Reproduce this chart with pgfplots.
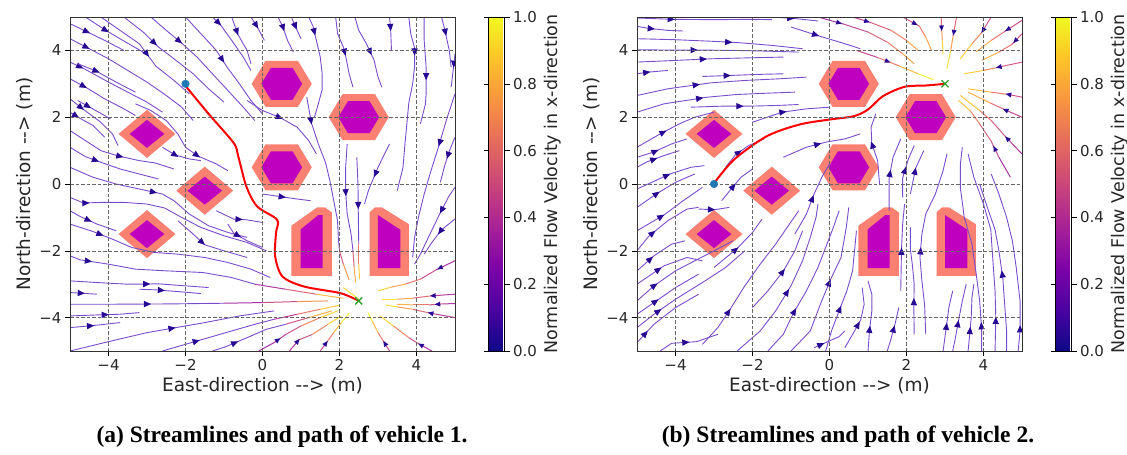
\documentclass[border=0pt]{standalone}
\usepackage{fontspec}
\setmainfont{DejaVu Sans}
\newfontfamily\capfont{Liberation Serif}
\usepackage{pgfplots}
\pgfplotsset{compat=1.18}
\usetikzlibrary{decorations.markings}
\definecolor{slc}{RGB}{122,76,204}
\definecolor{arrc}{RGB}{38,10,148}
\definecolor{salm}{RGB}{250,128,114}
\definecolor{obmag}{RGB}{191,0,191}
\definecolor{pathred}{RGB}{255,0,0}
\definecolor{startblue}{RGB}{31,119,180}
\definecolor{goalgreen}{RGB}{44,160,44}
\pgfplotsset{colormap={plasma}{rgb255=(13,8,135) rgb255=(75,3,161) rgb255=(125,3,168) rgb255=(168,34,150) rgb255=(203,70,121) rgb255=(229,107,93) rgb255=(248,148,65) rgb255=(253,195,40) rgb255=(240,249,33)}}
\pgfplotsset{
 sl/.style={draw=slc, line width=0.9pt, postaction={decorate}, decoration={markings, mark=at position #1 with {\fill[arrc] (3pt,0pt)--(-2.6pt,2.5pt)--(-2.6pt,-2.5pt)--cycle;}}},
 sl/.default=0.5,
 ar/.style={draw=none, postaction={decorate}, decoration={markings, mark=at position #1 with {\fill[arrc] (3pt,0pt)--(-2.6pt,2.5pt)--(-2.6pt,-2.5pt)--cycle;}}},
 ar/.default=0.5,
 gl/.style={mesh, shader=flat, line width=1.0pt, point meta=explicit, opacity=0.9},
 panel/.style={
  scale only axis, width=385pt, height=334pt,
  xmin=-5, xmax=5, ymin=-5, ymax=5,
  xtick={-4,-2,0,2,4}, ytick={-4,-2,0,2,4},
  xticklabels={−4,−2,0,2,4}, yticklabels={−4,−2,0,2,4},
  tick align=outside, xtick pos=bottom, ytick pos=left,
  major tick length=5pt,
  every tick/.style={black, line width=0.6pt},
  grid=major,
  major grid style={draw=black!60, line width=0.45pt, dash pattern=on 3.5pt off 2pt},
  axis line style={black!80, line width=0.6pt},
  tick label style={font=\fontsize{15}{18}\selectfont, text=black!85},
  label style={font=\fontsize{18.5}{22}\selectfont, text=black!85},
  xlabel={East-direction -{}-> (m)},
  ylabel={North-direction -{}-> (m)},
  point meta min=0, point meta max=1,
  axis on top,
  colorbar,
  colorbar style={
    at={(parent axis.north east)}, anchor=north west, xshift=25pt,
    scale only axis, width=16pt, height=334pt,
    ytick={0,0.2,0.4,0.6,0.8,1}, yticklabels={0.0,0.2,0.4,0.6,0.8,1.0},
    yticklabel style={font=\fontsize{15}{18}\selectfont, text=black!85},
    ylabel={Normalized Flow Velocity in x-direction},
    ylabel style={font=\fontsize{17.5}{21}\selectfont, text=black!85},
    major tick length=5pt, tick align=outside,
    axis line style={black, line width=0.6pt},
  },
 },
}
\newcommand{\obstacles}{%
\addplot[fill=salm, draw=none] coordinates {(-0.28,3)(0.08,3.69)(0.92,3.69)(1.28,3)(0.92,2.31)(0.08,2.31)} -- cycle;
\addplot[fill=obmag, draw=none] coordinates {(-0.03,3)(0.22,3.48)(0.78,3.48)(1.03,3)(0.78,2.52)(0.22,2.52)} -- cycle;
\addplot[fill=salm, draw=none] coordinates {(-0.28,0.5)(0.08,1.19)(0.92,1.19)(1.28,0.5)(0.92,-0.19)(0.08,-0.19)} -- cycle;
\addplot[fill=obmag, draw=none] coordinates {(-0.03,0.5)(0.22,0.98)(0.78,0.98)(1.03,0.5)(0.78,0.02)(0.22,0.02)} -- cycle;
\addplot[fill=salm, draw=none] coordinates {(1.72,2)(2.08,2.69)(2.92,2.69)(3.28,2)(2.92,1.31)(2.08,1.31)} -- cycle;
\addplot[fill=obmag, draw=none] coordinates {(1.97,2)(2.22,2.48)(2.78,2.48)(3.03,2)(2.78,1.52)(2.22,1.52)} -- cycle;
\addplot[fill=salm, draw=none] coordinates {(-3.74,1.5)(-3,2.22)(-2.26,1.5)(-3,0.78)} -- cycle;
\addplot[fill=obmag, draw=none] coordinates {(-3.45,1.5)(-3,1.92)(-2.55,1.5)(-3,1.08)} -- cycle;
\addplot[fill=salm, draw=none] coordinates {(-2.24,-0.2)(-1.5,0.52)(-0.76,-0.2)(-1.5,-0.92)} -- cycle;
\addplot[fill=obmag, draw=none] coordinates {(-1.95,-0.2)(-1.5,0.22)(-1.05,-0.2)(-1.5,-0.62)} -- cycle;
\addplot[fill=salm, draw=none] coordinates {(-3.74,-1.5)(-3,-0.78)(-2.26,-1.5)(-3,-2.22)} -- cycle;
\addplot[fill=obmag, draw=none] coordinates {(-3.45,-1.5)(-3,-1.08)(-2.55,-1.5)(-3,-1.92)} -- cycle;
\addplot[fill=salm, draw=none] coordinates {(0.75,-2.75)(1.8,-2.75)(1.8,-0.85)(1.62,-0.7)(1.42,-0.7)(0.75,-1.25)} -- cycle;
\addplot[fill=obmag, draw=none] coordinates {(0.99,-2.52)(1.56,-2.52)(1.56,-0.93)(1.45,-0.93)(0.99,-1.36)} -- cycle;
\addplot[fill=salm, draw=none] coordinates {(2.78,-2.75)(3.8,-2.75)(3.8,-1.2)(3.1,-0.7)(2.92,-0.7)(2.78,-0.85)} -- cycle;
\addplot[fill=obmag, draw=none] coordinates {(3.0,-2.52)(3.58,-2.52)(3.58,-1.37)(3.0,-0.93)} -- cycle;
}
\begin{document}
\begin{tikzpicture}
\useasboundingbox (0,0) rectangle (1127pt,-455pt);
% ---------------- panel (a)
\begin{axis}[panel, at={(70pt,-17pt)}, anchor=north west]
\obstacles
% top-left family
\addplot[sl=0.3] coordinates {(-5,4.8)(-4.6,4.58)(-4.1,4.3)(-3.6,4.0)};
\addplot[sl=0.12] coordinates {(-5,4.35)(-4.5,4.05)(-4.0,3.75)(-3.5,3.4)(-3.0,3.05)(-2.5,2.65)(-2.1,2.3)(-1.8,1.9)};
\addplot[sl=0.1] coordinates {(-5,3.65)(-4.6,3.43)(-4.0,3.05)(-3.5,2.75)(-3.0,2.45)(-2.6,2.15)};
\addplot[sl=0.3] coordinates {(-4.8,3.6)(-4.32,3.38)(-3.8,3.05)(-3.3,2.75)};
\addplot[sl=0.2] coordinates {(-5,3.15)(-4.57,2.88)(-4.1,2.55)(-3.6,2.25)(-3.3,2.05)};
\addplot[sl=0.2] coordinates {(-5,2.55)(-4.65,2.23)(-4.2,1.85)(-3.9,1.5)(-3.75,1.15)};
\addplot[sl=0.3] coordinates {(-4.8,2.5)(-4.38,2.23)(-3.95,1.95)};
\addplot[sl=0.15] coordinates {(-5,2.15)(-4.76,1.98)(-4.4,1.75)(-4.1,1.4)};
\addplot[sl=0.5] coordinates {(-5,1.6)(-4.6,1.3)(-4.2,1.0)(-3.75,0.84)(-3.2,0.7)(-2.79,0.63)(-2.3,0.45)};
\addplot[sl=0.3] coordinates {(-5,1.1)(-4.6,0.82)(-4.22,0.66)(-3.7,0.45)(-3.2,0.3)(-2.7,0.15)};
\addplot[sl=0.7] coordinates {(-3.3,2.4)(-2.9,2.2)(-2.5,1.9)(-2.2,1.5)(-2.0,1.1)(-1.68,0.84)(-1.2,0.6)(-0.9,0.4)};
\addplot[sl=0.35] coordinates {(-2.6,1.1)(-2.27,0.87)(-1.9,0.75)(-1.6,0.7)};
\addplot[sl=0.35] coordinates {(-4.6,5)(-4.1,4.62)(-3.6,4.28)(-3.1,3.95)};
\addplot[sl=0.5] coordinates {(-4.2,5)(-3.7,4.6)(-3.2,4.2)(-2.77,3.53)(-2.3,3.1)(-1.9,2.7)};
\addplot[sl=0.3] coordinates {(-3.6,5)(-3.1,4.55)(-2.7,4.1)(-2.3,3.75)(-1.8,3.3)(-1.4,2.85)(-1.0,2.45)};
\addplot[sl=0.25] coordinates {(-2.9,5)(-2.5,4.6)(-2.11,4.23)(-1.7,3.8)(-1.3,3.3)(-0.9,2.8)(-0.5,2.3)(-0.2,1.9)};
\addplot[sl=0.45] coordinates {(-2.0,5)(-1.6,4.5)(-1.2,4.0)(-0.92,3.5)(-0.6,3.0)(-0.3,2.5)(0.0,2.1)};
\addplot[sl=0.12] coordinates {(-1.3,5)(-1.1,4.78)(-0.8,4.3)(-0.5,3.8)(-0.3,3.4)};
\addplot[sl=0.3] coordinates {(-0.8,5)(-0.64,4.48)(-0.4,4.0)(-0.3,3.6)};
\addplot[sl=0.35] coordinates {(-0.3,5)(-0.15,4.73)(0.05,4.3)};
\addplot[sl=0.3] coordinates {(0.4,5)(0.52,4.73)(0.65,4.3)(0.8,3.95)};
\addplot[sl=0.4] coordinates {(0.75,5)(0.85,4.73)(1.0,4.35)};
\addplot[sl=0.15] coordinates {(1.2,5)(1.31,4.73)(1.4,4.3)(1.5,3.8)(1.55,3.3)(1.55,2.83)(1.45,2.4)(1.35,2.0)};
\addplot[sl=0.5] coordinates {(1.9,5)(1.95,4.5)(2.1,4.1)(2.16,3.83)(2.25,3.3)(2.35,2.9)};
\addplot[sl=0.5] coordinates {(2.4,5)(2.5,4.6)(2.7,4.2)(2.9,3.7)(3.0,3.2)(3.1,2.9)};
\addplot[sl=0.3] coordinates {(3.3,5)(3.33,4.6)(3.35,4.0)};
\addplot[sl=0.2] coordinates {(3.8,5)(3.85,4.5)(3.95,4.08)(3.95,3.5)(3.9,3.0)(3.8,2.43)(3.75,1.8)(3.7,1.2)(3.65,0.5)(3.5,-0.2)};
\addplot[sl=0.55] coordinates {(4.2,5)(4.2,4.3)(4.25,3.5)(4.25,2.7)(4.23,2.38)(4.1,1.8)};
\addplot[sl=0.3] coordinates {(4.65,5)(4.74,4.6)(4.85,4.0)(4.9,3.5)};
\addplot[sl=0.3] coordinates {(5,3.9)(4.95,3.38)(4.9,2.9)};
% right family
\addplot[sl=0.3] coordinates {(5,2.7)(4.8,2.0)(4.55,1.03)(4.35,0.3)(4.2,-0.3)(4.05,-1.0)(3.95,-1.6)(3.9,-2.2)};
\addplot[sl=0.4] coordinates {(5,1.4)(4.85,0.98)(4.72,0.5)(4.62,0.05)};
\addplot[sl=0.3] coordinates {(5,-0.1)(4.84,-0.37)(4.6,-0.9)(4.35,-1.5)(4.1,-2.1)(3.95,-2.4)};
\addplot[sl=0.4] coordinates {(5,-1.05)(4.65,-1.37)(4.4,-1.75)(4.2,-2.1)};
% converging to goal (gradient)
\addplot[gl] coordinates {(5,-2.3) [0.3] (4.51,-2.57) [0.4] (4.1,-2.85) [0.55] (3.7,-3.0) [0.7] (3.3,-3.1) [0.85] (3.0,-3.2) [0.95]};
\addplot[ar=0.2] coordinates {(5,-2.3)(4.51,-2.57)(4.1,-2.85)(3.7,-3.0)(3.3,-3.1)(3.0,-3.2)};
\addplot[gl] coordinates {(5,-3.3) [0.3] (4.37,-3.35) [0.5] (3.9,-3.42) [0.65] (3.5,-3.45) [0.9] (3.1,-3.45) [1.0]};
\addplot[ar=0.3] coordinates {(5,-3.3)(4.37,-3.35)(3.9,-3.42)(3.5,-3.45)(3.1,-3.45)};
\addplot[gl] coordinates {(5,-3.58) [0.3] (4.67,-3.59) [0.45] (4.32,-3.62) [0.55] (3.9,-3.62) [0.7] (3.5,-3.6) [0.9]};
\addplot[ar=0.3] coordinates {(5,-3.58)(4.67,-3.59)(4.32,-3.62)(3.9,-3.62)(3.5,-3.6)};
\addplot[gl] coordinates {(5,-4.0) [0.3] (4.37,-3.87) [0.5] (3.9,-3.75) [0.65] (3.5,-3.68) [0.85] (3.2,-3.62) [1.0]};
\addplot[ar=0.35] coordinates {(5,-4.0)(4.37,-3.87)(3.9,-3.75)(3.5,-3.68)(3.2,-3.62)};
\addplot[gl] coordinates {(4.4,-5) [0.3] (4.08,-4.8) [0.45] (3.8,-4.6) [0.55] (3.4,-4.25) [0.8] (3.05,-3.95) [1.0]};
\addplot[ar=0.2] coordinates {(4.4,-5)(4.08,-4.8)(3.8,-4.6)(3.4,-4.25)(3.05,-3.95)};
\addplot[gl] coordinates {(3.3,-5) [0.35] (3.15,-4.72) [0.55] (3.0,-4.45) [0.7] (2.85,-4.1) [0.95] (2.74,-3.85) [1.0]};
\addplot[ar=0.2] coordinates {(3.3,-5)(3.15,-4.72)(3.0,-4.45)(2.85,-4.1)(2.74,-3.85)};
\addplot[gl] coordinates {(1.5,-5) [0.35] (1.68,-4.72) [0.55] (1.85,-4.45) [0.7] (2.05,-4.15) [0.95] (2.25,-3.87) [1.0]};
\addplot[ar=0.2] coordinates {(1.5,-5)(1.68,-4.72)(1.85,-4.45)(2.05,-4.15)(2.25,-3.87)};
\addplot[gl] coordinates {(0.7,-5) [0.3] (0.94,-4.67) [0.45] (1.3,-4.5) [0.55] (1.7,-4.2) [0.8] (2.05,-3.95) [1.0]};
\addplot[ar=0.2] coordinates {(0.7,-5)(0.94,-4.67)(1.3,-4.5)(1.7,-4.2)(2.05,-3.95)};
\addplot[gl] coordinates {(-0.1,-5) [0.3] (0.3,-4.75) [0.35] (0.61,-4.5) [0.45] (1.0,-4.25) [0.55] (1.5,-4.0) [0.8] (1.95,-3.8) [1.0]};
\addplot[ar=0.25] coordinates {(-0.1,-5)(0.3,-4.75)(0.61,-4.5)(1.0,-4.25)(1.5,-4.0)(1.95,-3.8)};
\addplot[gl] coordinates {(2.1,-3.1) [0.85] (2.5,-3.45) [1.0]};
% middle
\addplot[sl=0.4] coordinates {(-0.4,2.5)(0.0,2.2)(0.47,1.98)(0.9,1.7)(1.2,1.3)(1.4,0.9)};
\addplot[sl=0.15] coordinates {(1.15,2.6)(1.27,1.83)(1.45,1.2)(1.64,0.63)(1.75,0.1)(1.85,-0.5)(1.95,-1.1)(1.97,-1.62)(2.0,-2.0)};
\addplot[gl] coordinates {(2.0,-2.0) [0.45] (2.1,-2.4) [0.6] (2.25,-2.87) [0.85]};
\addplot[sl=0.45] coordinates {(2.2,1.2)(2.16,0.5)(2.16,-0.22)(2.2,-0.9)(2.3,-1.5)(2.35,-2.0)};
\addplot[gl] coordinates {(2.35,-2.0) [0.45] (2.38,-2.5) [0.65] (2.42,-2.95) [0.95]};
\addplot[sl=0.55] coordinates {(2.45,0.8)(2.48,0.0)(2.49,-1.02)(2.5,-1.8)};
\addplot[gl] coordinates {(2.5,-1.8) [0.5] (2.5,-2.4) [0.75] (2.52,-2.85) [1.0]};
\addplot[sl=0.4] coordinates {(0.0,-0.3)(0.42,-0.37)(0.9,-0.45)(1.25,-0.5)};
\addplot[sl=0.5] coordinates {(3.3,1.2)(3.0,0.5)(2.75,-0.2)(2.65,-0.6)};
% left-middle and bottom
\addplot[sl=0.45] coordinates {(-5,0.5)(-4.4,0.2)(-3.8,0.0)(-3.2,-0.15)(-2.6,-0.3)(-2.3,-0.5)(-1.9,-0.9)(-1.4,-1.25)(-0.9,-1.45)(-0.4,-1.6)};
\addplot[sl=0.08] coordinates {(-5,-0.4)(-4.65,-0.57)(-4.18,-0.55)(-3.6,-0.55)(-3.0,-0.6)(-2.54,-0.72)(-2.1,-1.0)(-1.6,-1.3)(-1.0,-1.55)(-0.4,-1.75)(0.1,-2.0)};
\addplot[sl=0.4] coordinates {(-5,-0.8)(-4.74,-0.97)(-4.3,-1.2)(-3.8,-1.4)};
\addplot[sl=0.15] coordinates {(-5,-1.2)(-4.41,-1.42)(-3.9,-1.65)(-3.4,-1.9)(-2.8,-2.05)(-2.2,-2.1)(-1.5,-2.2)(-0.9,-2.35)(-0.3,-2.55)(0.2,-2.8)};
\addplot[sl=0.4] coordinates {(-2.2,-1.1)(-1.8,-1.5)(-1.5,-1.82)(-1.0,-2.0)(-0.4,-2.2)};
\addplot[sl=0.5] coordinates {(-1.2,-0.8)(-0.75,-1.05)(-0.42,-1.07)(0.0,-1.15)};
\addplot[sl=0.35] coordinates {(-0.9,-1.2)(-0.75,-1.47)(-0.4,-1.7)(0.0,-1.9)};
\addplot[sl=0.1] coordinates {(-5,-2.15)(-4.74,-2.27)(-4.0,-2.4)(-3.3,-2.55)(-2.5,-2.6)(-1.55,-2.65)(-0.8,-2.8)(-0.2,-3.0)};
\addplot[gl] coordinates {(-0.2,-3.0) [0.3] (0.6,-3.15) [0.45] (1.4,-3.3) [0.65] (2.1,-3.42) [1.0]};
\addplot[sl=0.55] coordinates {(-5,-2.9)(-4.3,-2.95)(-3.5,-3.0)(-2.68,-2.99)(-2.0,-3.05)(-1.4,-3.1)};
\addplot[sl=0.4] coordinates {(-5,-3.25)(-4.69,-3.27)(-4.3,-3.3)};
\addplot[sl=0.35] coordinates {(-3.2,-3.15)(-2.77,-3.17)(-2.2,-3.22)(-1.6,-3.28)};
\addplot[sl=0.5] coordinates {(-5,-3.6)(-4.0,-3.6)(-2.39,-3.59)(-1.0,-3.57)};
\addplot[gl] coordinates {(-1.0,-3.57) [0.3] (0.0,-3.55) [0.4] (0.9,-3.52) [0.55] (1.7,-3.5) [0.9]};
\addplot[sl=0.5] coordinates {(-5,-3.95)(-4.3,-3.92)(-3.71,-3.9)(-3.2,-3.85)};
\addplot[sl=0.4] coordinates {(-5,-4.3)(-4.41,-4.24)(-3.7,-4.15)};
\addplot[sl=0.5] coordinates {(-5,-5)(-4.0,-4.72)(-3.0,-4.45)(-2.0,-4.25)(-1.5,-4.15)(-0.6,-3.95)(0.3,-3.8)};
\addplot[sl=0.3] coordinates {(-2.6,-5)(-2.0,-4.8)(-1.46,-4.62)(-0.8,-4.4)(-0.2,-4.2)(0.3,-4.05)};
\addplot[gl] coordinates {(0.3,-4.05) [0.3] (0.9,-3.9) [0.5] (1.5,-3.75) [0.75] (2.0,-3.63) [1.0]};
\addplot[sl=0.3] coordinates {(-1.3,-5)(-0.95,-4.87)(-0.4,-4.6)(0.1,-4.35)(0.6,-4.2)};
\addplot[gl] coordinates {(0.6,-4.2) [0.35] (1.2,-4.0) [0.65] (1.8,-3.8) [0.95]};
% path, start, goal
\addplot[pathred, line width=2pt, smooth] coordinates {(-2.03,2.98)(-1.4,2.1)(-0.75,1.23)(-0.63,0.83)(-0.42,-0.07)(-0.14,-0.67)(0.38,-1.07)(0.35,-1.47)(0.33,-2.17)(0.52,-2.77)(1.08,-3.07)(2.03,-3.27)(2.5,-3.5)};
\addplot[only marks, mark=*, mark size=3.8pt, startblue] coordinates {(-2,3)};
\addplot[only marks, mark=x, mark size=5pt, goalgreen, line width=1.3pt] coordinates {(2.5,-3.5)};
\end{axis}
% ---------------- panel (b)
\begin{axis}[panel, at={(637pt,-17pt)}, anchor=north west]
\obstacles
% top-left horizontals
\addplot[sl=0.3] coordinates {(-5,4.72)(-4.7,4.66)(-4.2,4.6)(-3.8,4.58)};
\addplot[sl=0.25] coordinates {(-5,4.97)(-4.06,4.93)(-3.0,4.92)(-2.0,4.93)(-1.5,4.92)};
\addplot[sl=0.4] coordinates {(-1.5,5)(-0.86,4.95)(-0.3,4.88)};
\addplot[sl=0.55] coordinates {(-5,4.35)(-4.0,4.32)(-3.0,4.27)(-2.34,4.23)(-1.5,4.15)(-0.7,4.05)};
\addplot[sl=0.35] coordinates {(-5,4.02)(-4.2,4.01)(-3.36,4.01)(-2.5,4.0)(-1.7,3.98)(-0.8,3.95)};
\addplot[sl=0.45] coordinates {(-5,3.65)(-4.0,3.7)(-3.04,3.75)(-2.0,3.78)(-1.2,3.8)};
\addplot[sl=0.3] coordinates {(-5,3.3)(-4.7,3.35)(-4.2,3.4)};
\addplot[sl=0.3] coordinates {(-3.3,3.22)(-2.57,3.25)(-1.9,3.28)(-1.2,3.3)};
\addplot[sl=0.35] coordinates {(-5,2.65)(-4.2,2.85)(-3.08,3.03)(-2.2,3.1)(-1.3,3.15)(-0.6,3.2)};
\addplot[sl=0.4] coordinates {(-5,2.15)(-4.3,2.4)(-3.17,2.6)(-2.4,2.68)(-1.6,2.72)(-0.9,2.75)};
\addplot[sl=0.45] coordinates {(-3.6,2.3)(-2.8,2.33)(-2.11,2.33)(-1.4,2.35)(-0.8,2.38)};
\addplot[sl=0.4] coordinates {(-2.0,1.85)(-1.23,2.15)(-0.6,2.25)(0.0,2.3)};
\addplot[sl=0.35] coordinates {(-1.0,4.7)(-0.21,4.41)(0.4,4.2)(0.8,4.05)};
% converging to goal (gradient)
\addplot[gl] coordinates {(-0.3,5) [0.3] (0.39,4.78) [0.4] (1.0,4.55) [0.5] (1.5,4.25) [0.6] (1.9,3.9) [0.7] (2.2,3.6) [0.85]};
\addplot[ar=0.2] coordinates {(-0.3,5)(0.39,4.78)(1.0,4.55)(1.5,4.25)(1.9,3.9)(2.2,3.6)};
\addplot[gl] coordinates {(0.6,5) [0.35] (1.08,4.83) [0.5] (1.6,4.6) [0.6] (2.0,4.3) [0.7] (2.3,4.0) [0.8]};
\addplot[ar=0.2] coordinates {(0.6,5)(1.08,4.83)(1.6,4.6)(2.0,4.3)(2.3,4.0)};
\addplot[gl] coordinates {(0.7,4.0) [0.35] (1.27,3.78) [0.55] (1.82,3.53) [0.7] (2.3,3.3) [0.95] (2.7,3.12) [1.0]};
\addplot[ar=0.4] coordinates {(0.7,4.0)(1.27,3.78)(1.82,3.53)(2.3,3.3)(2.7,3.12)};
\addplot[gl] coordinates {(1.9,5) [0.45] (2.33,4.73) [0.6] (2.5,4.4) [0.7] (2.65,4.0) [0.85]};
\addplot[ar=0.3] coordinates {(1.9,5)(2.33,4.73)(2.5,4.4)(2.65,4.0)};
\addplot[gl] coordinates {(2.9,5) [0.5] (2.91,4.68) [0.65] (2.93,4.3) [0.8] (2.95,3.9) [1.0]};
\addplot[ar=0.3] coordinates {(2.9,5)(2.91,4.68)(2.93,4.3)(2.95,3.9)};
\addplot[gl] coordinates {(3.3,5) [0.45] (3.21,4.43) [0.65] (3.15,4.0) [0.85] (3.05,3.45) [1.0]};
\addplot[ar=0.3] coordinates {(3.3,5)(3.21,4.43)(3.15,4.0)(3.05,3.45)};
\addplot[gl] coordinates {(4.2,5) [0.45] (3.95,4.53) [0.6] (3.7,4.2) [0.75] (3.4,3.75) [1.0]};
\addplot[ar=0.3] coordinates {(4.2,5)(3.95,4.53)(3.7,4.2)(3.4,3.75)};
\addplot[gl] coordinates {(5,4.9) [0.4] (4.53,4.55) [0.55] (4.2,4.3) [0.7] (3.8,3.95) [0.9]};
\addplot[ar=0.3] coordinates {(5,4.9)(4.53,4.55)(4.2,4.3)(3.8,3.95)};
\addplot[gl] coordinates {(5,4.5) [0.4] (4.74,4.18) [0.55] (4.4,3.95) [0.65] (3.95,3.7) [0.95]};
\addplot[ar=0.2] coordinates {(5,4.5)(4.74,4.18)(4.4,3.95)(3.95,3.7)};
\addplot[gl] coordinates {(5,3.65) [0.45] (4.32,3.48) [0.6] (4.0,3.4) [0.75] (3.5,3.3) [1.0]};
\addplot[ar=0.4] coordinates {(5,3.65)(4.32,3.48)(4.0,3.4)(3.5,3.3)};
\addplot[gl] coordinates {(5,2.6) [0.4] (4.65,2.68) [0.55] (4.2,2.75) [0.7] (3.6,2.85) [1.0]};
\addplot[ar=0.25] coordinates {(5,2.6)(4.65,2.68)(4.2,2.75)(3.6,2.85)};
\addplot[gl] coordinates {(5,2.0) [0.35] (4.6,2.2) [0.5] (4.17,2.43) [0.65] (3.6,2.75) [0.95]};
\addplot[ar=0.3] coordinates {(5,2.0)(4.6,2.2)(4.17,2.43)(3.6,2.75)};
\addplot[gl] coordinates {(5,0.9) [0.3] (4.6,1.38) [0.45] (4.2,1.9) [0.55] (3.9,2.2) [0.7] (3.4,2.65) [1.0]};
\addplot[ar=0.25] coordinates {(5,0.9)(4.6,1.38)(4.2,1.9)(3.9,2.2)(3.4,2.65)};
\addplot[gl] coordinates {(4.7,0.2) [0.3] (4.4,0.8) [0.4] (4.2,1.28) [0.5] (3.9,1.8) [0.6] (3.65,2.2) [0.75] (3.35,2.5) [0.95]};
\addplot[ar=0.35] coordinates {(4.7,0.2)(4.4,0.8)(4.2,1.28)(3.9,1.8)(3.65,2.2)(3.35,2.5)};
% right side going up
\addplot[sl=0.12] coordinates {(4.9,-5)(4.95,-4.4)(4.95,-3.5)(4.85,-2.5)(4.75,-1.7)(4.6,-1.0)(4.4,-0.3)(4.2,0.3)};
\addplot[sl=0.45] coordinates {(4.6,-5)(4.6,-4.4)(4.55,-3.6)(4.5,-2.8)(4.4,-2.0)(4.3,-1.37)(4.1,-0.7)(3.9,0.0)};
\addplot[sl=0.15] coordinates {(4.3,-5)(4.32,-4.02)(4.3,-3.2)(4.25,-2.4)(4.19,-1.37)(4.0,-0.6)(3.75,0.2)(3.6,0.9)};
\addplot[sl=0.12] coordinates {(3.95,-5)(3.95,-4.32)(3.9,-3.5)(3.8,-2.6)(3.7,-1.8)(3.5,-1.0)(3.4,-0.12)(3.4,0.6)(3.45,1.1)};
\addplot[sl=0.3] coordinates {(3.6,-5)(3.68,-4.02)(3.7,-3.4)(3.75,-3.0)};
\addplot[sl=0.4] coordinates {(3.2,-5)(3.26,-4.67)(3.35,-4.1)(3.45,-3.5)(3.55,-3.0)};
\addplot[sl=0.4] coordinates {(2.95,-5)(3.03,-4.32)(3.1,-3.7)(3.2,-3.2)};
\addplot[sl=0.45] coordinates {(2.5,-4.5)(2.47,-3.62)(2.4,-2.9)(2.35,-2.2)(2.4,-1.5)(2.5,-0.9)(2.75,-0.3)(2.95,0.4)(3.05,0.9)};
\addplot[sl=0.3] coordinates {(2.2,-4.5)(2.19,-3.62)(2.2,-3.0)(2.15,-2.4)(2.1,-1.95)(2.1,-1.3)};
\addplot[sl=0.45] coordinates {(1.85,-3.2)(1.87,-1.95)(1.9,-1.2)(1.95,-0.6)};
\addplot[sl=0.5] coordinates {(1.5,-5)(1.59,-4.67)(1.7,-4.2)(1.8,-3.7)};
\addplot[sl=0.3] coordinates {(1.0,-5)(1.04,-4.37)(1.1,-3.8)(1.1,-3.3)(1.0,-2.9)};
\addplot[sl=0.4] coordinates {(0.4,-4.9)(0.6,-4.5)(0.81,-4.07)(0.9,-3.6)(0.85,-3.1)};
\addplot[sl=0.35] coordinates {(-0.1,-5)(0.06,-4.37)(0.25,-3.8)(0.45,-3.2)(0.6,-2.6)(0.65,-2.0)(0.7,-1.4)};
\addplot[sl=0.2] coordinates {(-0.4,-4.9)(0.25,-4.57)(0.4,-4.4)};
% bottom-left diagonals
\addplot[sl=0.5] coordinates {(-1.0,-5)(-0.5,-4.4)(-0.21,-3.52)(0.05,-2.8)(0.3,-2.2)(0.44,-1.27)(0.5,-0.7)};
\addplot[sl=0.3] coordinates {(-1.6,-5)(-1.2,-4.5)(-0.94,-3.87)(-0.6,-3.2)(-0.3,-2.5)(-0.1,-1.9)(0.1,-1.3)(0.25,-0.8)};
\addplot[sl=0.45] coordinates {(-2.4,-5)(-1.8,-4.4)(-1.4,-3.8)(-1.0,-3.05)(-0.7,-2.3)(-0.5,-1.6)(-0.35,-1.0)(-0.3,-0.6)};
\addplot[sl=0.25] coordinates {(-3.3,-4.8)(-2.9,-4.3)(-2.62,-3.82)(-2.2,-3.05)(-1.8,-2.4)(-1.4,-1.8)(-1.1,-1.3)(-0.8,-0.8)};
\addplot[sl=0.5] coordinates {(-2.0,-3.7)(-1.6,-3.2)(-1.19,-2.59)(-0.9,-2.0)(-0.7,-1.4)};
\addplot[sl=0.45] coordinates {(-4.4,-5)(-4.1,-4.77)(-3.45,-4.72)(-2.9,-4.5)};
\addplot[sl=0.15] coordinates {(-5,-4.75)(-4.56,-4.2)(-4.0,-3.7)(-3.4,-3.3)};
\addplot[sl=0.2] coordinates {(-5,-4.3)(-4.56,-3.9)(-4.0,-3.45)(-3.3,-2.95)(-2.7,-2.5)(-2.2,-2.0)};
\addplot[sl=0.3] coordinates {(-5,-3.9)(-4.56,-3.55)(-4.0,-3.1)(-3.4,-2.7)};
\addplot[sl=0.2] coordinates {(-5,-3.5)(-4.56,-3.05)(-4.0,-2.6)(-3.5,-2.3)(-3.0,-2.0)(-2.5,-1.7)};
\addplot[sl=0.35] coordinates {(-5,-3.0)(-4.3,-2.45)(-3.7,-2.2)(-3.3,-2.3)};
\addplot[sl=0.3] coordinates {(-5,-2.6)(-4.56,-2.15)(-4.1,-1.8)(-3.75,-1.7)};
\addplot[sl=0.3] coordinates {(-5,-2.0)(-4.7,-1.57)(-4.2,-1.1)(-3.7,-0.75)(-3.4,-0.7)};
\addplot[sl=0.35] coordinates {(-5,-1.4)(-4.29,-0.92)(-3.8,-0.5)(-3.3,-0.1)};
\addplot[sl=0.35] coordinates {(-5,-0.7)(-4.5,-0.3)(-4.0,0.05)(-3.5,0.3)};
\addplot[sl=0.45] coordinates {(-5,-0.15)(-4.12,0.31)(-3.6,0.5)(-3.25,0.55)};
\addplot[sl=0.4] coordinates {(-5,0.5)(-4.75,0.66)(-4.3,0.85)(-3.9,1.0)};
\addplot[sl=0.35] coordinates {(-5,0.8)(-4.58,0.95)(-4.1,1.2)(-3.7,1.35)};
\addplot[sl=0.35] coordinates {(-5,1.1)(-4.43,1.48)(-3.9,1.8)(-3.5,2.0)(-3.0,2.15)};
\addplot[sl=0.4] coordinates {(-2.8,-0.5)(-2.57,-0.17)(-2.3,0.2)(-2.0,0.45)};
\addplot[sl=0.4] coordinates {(-2.7,0.5)(-2.44,0.88)(-2.1,1.15)(-1.7,1.35)};
\addplot[sl=0.4] coordinates {(-3.4,-0.75)(-2.99,-0.77)(-2.6,-0.7)};
\addplot[sl=0.4] coordinates {(-3.0,-2.5)(-2.39,-1.92)(-2.0,-1.45)(-1.75,-1.05)};
\addplot[sl=0.5] coordinates {(-0.9,-1.5)(-0.6,-0.9)(-0.4,-0.3)(-0.2,0.2)(0.0,0.6)};
\addplot[sl=0.45] coordinates {(-1.2,0.8)(-0.6,1.1)(-0.07,1.26)(0.4,1.35)(0.8,1.5)};
\addplot[sl=0.5] coordinates {(1.55,-0.8)(1.55,0.18)(1.65,0.8)(1.85,1.35)};
\addplot[sl=0.5] coordinates {(1.9,-0.4)(1.9,0.18)(2.05,0.75)(2.2,1.15)};
\addplot[sl=0.5] coordinates {(2.1,-0.3)(2.24,0.48)(2.45,1.0)};
\addplot[sl=0.55] coordinates {(1.3,0.0)(1.25,0.7)(1.1,1.2)(1.08,1.7)(1.2,2.1)};
% path, start, goal
\addplot[pathred, line width=2pt, smooth] coordinates {(-3.0,0.02)(-2.48,0.73)(-1.63,1.43)(-0.78,1.78)(0.0,1.93)(0.63,2.03)(1.0,2.23)(1.39,2.63)(1.95,2.91)(2.52,2.95)(3.0,3.0)};
\addplot[only marks, mark=*, mark size=3.8pt, startblue] coordinates {(-3,0)};
\addplot[only marks, mark=x, mark size=5pt, goalgreen, line width=1.3pt] coordinates {(3,3)};
\end{axis}
\node[font={\capfont\bfseries\fontsize{23.5}{28}\selectfont}] at (282pt,-437pt) {(a) Streamlines and path of vehicle 1.};
\node[font={\capfont\bfseries\fontsize{23.5}{28}\selectfont}] at (848pt,-437pt) {(b) Streamlines and path of vehicle 2.};
\end{tikzpicture}
\end{document}
